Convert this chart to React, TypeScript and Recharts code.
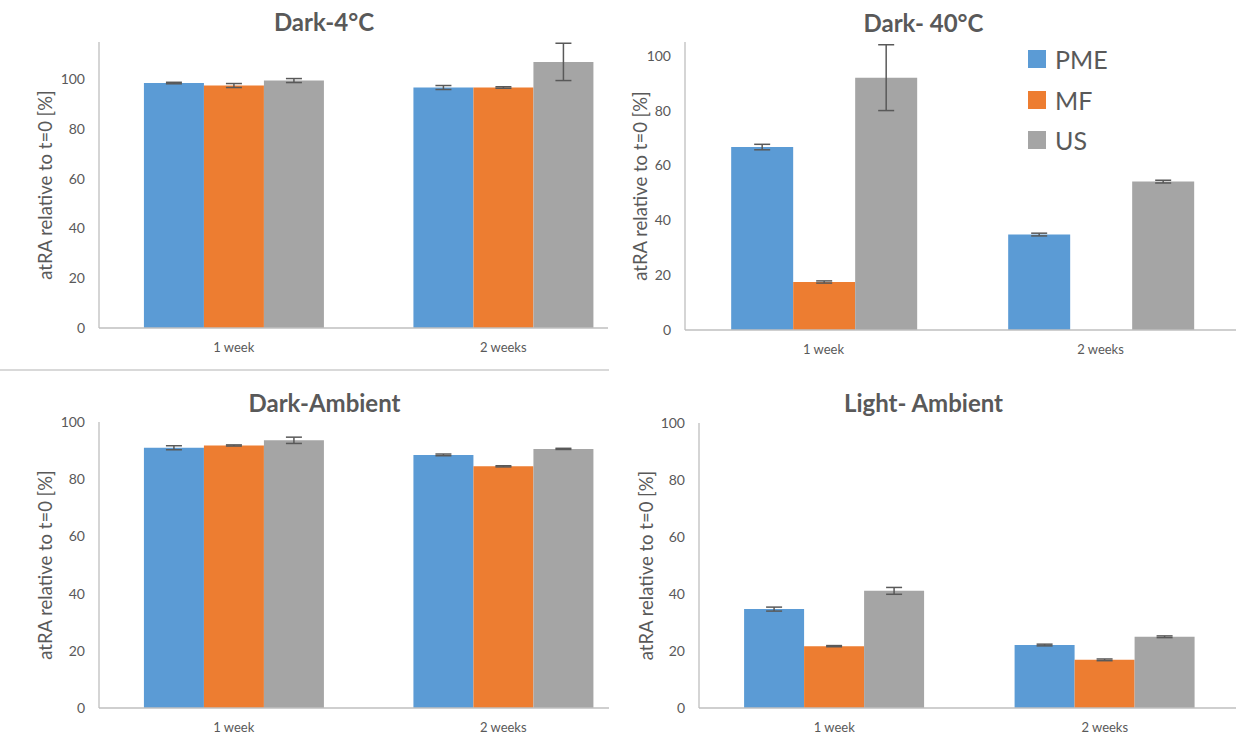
import React from 'react';
import { BarChart, Bar, XAxis, YAxis, ErrorBar, Legend } from 'recharts';

const categories = ['1 week', '2 weeks'];
const seriesNames = ['PME', 'MF', 'US'];
const seriesColors = ['#5B9BD5', '#ED7D31', '#A5A5A5'];
const yTicks = [0, 20, 40, 60, 80, 100];
const yAxisTitle = 'atRA relative to t=0 [%]';

// Dark-4°C
const dark4PME = [98.5, 96.7];
const dark4PMEErr = [0.3, 0.8];
const dark4MF = [97.5, 96.7];
const dark4MFErr = [0.8, 0.3];
const dark4US = [99.5, 107.0];
const dark4USErr = [0.8, 7.5];

// Dark- 40°C
const dark40PME = [66.7, 34.8];
const dark40PMEErr = [1.0, 0.5];
const dark40MF: (number | null)[] = [17.5, null];
const dark40MFErr: (number | null)[] = [0.4, null];
const dark40US = [92.0, 54.1];
const dark40USErr = [12.0, 0.5];

// Dark-Ambient
const darkAmbPME = [91.0, 88.5];
const darkAmbPMEErr = [0.7, 0.3];
const darkAmbMF = [91.8, 84.5];
const darkAmbMFErr = [0.2, 0.2];
const darkAmbUS = [93.6, 90.6];
const darkAmbUSErr = [1.1, 0.2];

// Light- Ambient
const lightAmbPME = [34.7, 22.1];
const lightAmbPMEErr = [0.7, 0.3];
const lightAmbMF = [21.7, 16.9];
const lightAmbMFErr = [0.2, 0.3];
const lightAmbUS = [41.1, 25.0];
const lightAmbUSErr = [1.2, 0.3];

const buildRows = (pme: any[], pmeE: any[], mf: any[], mfE: any[], us: any[], usE: any[]) =>
  categories.map((c, i) => ({
    cat: c,
    PME: pme[i], PMEErr: pmeE[i],
    MF: mf[i], MFErr: mfE[i],
    US: us[i], USErr: usE[i],
  }));

const FONT = 'Lato, "Noto Sans", sans-serif';
const TEXT = '#595959';
const AXIS = '#BFBFBF';

const renderLegend = (props: any) => {
  const items = [...(props.payload || [])].sort(
    (a: any, b: any) => seriesNames.indexOf(a.value) - seriesNames.indexOf(b.value)
  );
  return (
    <div style={{ fontFamily: FONT }}>
      {items.map((p: any) => (
        <div key={p.value} style={{ display: 'flex', alignItems: 'center', height: 40.5 }}>
          <span style={{ display: 'inline-block', width: 18, height: 18, background: p.color, marginRight: 9 }} />
          <span style={{ fontSize: 25, color: TEXT, lineHeight: '40px' }}>{p.value}</span>
        </div>
      ))}
    </div>
  );
};

type PanelProps = {
  title: string;
  data: any[];
  domainMax: number;
  left: number; top: number; wrapW: number; wrapH: number;
  chartW: number; yAxisW: number;
  plotTop: number; plotBottom: number;
  titleX: number; titleY: number;
  labelDx: number;
  legend?: boolean;
};

const Panel = (p: PanelProps) => {
  const xAxisH = 20;
  return (
    <div style={{ position: 'absolute', left: p.left, top: p.top, width: p.wrapW, height: p.wrapH, overflow: 'hidden' }}>
      <div style={{
        position: 'absolute', left: p.titleX, top: p.titleY, transform: 'translate(-50%, -50%)',
        fontFamily: FONT, fontWeight: 700, fontSize: 24, color: TEXT, whiteSpace: 'nowrap', lineHeight: 1,
      }}>{p.title}</div>
      <div style={{ position: 'absolute', left: 0, top: 0 }}>
        <BarChart
          width={p.chartW}
          height={p.wrapH}
          data={p.data}
          margin={{ top: p.plotTop, left: 0, right: 2, bottom: p.wrapH - p.plotBottom - xAxisH }}
          barCategoryGap="16.67%"
          barGap={0}
        >
          <XAxis
            dataKey="cat"
            height={xAxisH}
            tickLine={false}
            tickSize={0}
            tickMargin={15}
            axisLine={{ stroke: AXIS, strokeWidth: 1.3 }}
            tick={{ fill: TEXT, fontSize: 13, fontFamily: FONT }}
          />
          <YAxis
            width={p.yAxisW}
            domain={[0, p.domainMax]}
            ticks={yTicks}
            allowDataOverflow
            tickLine={false}
            tickSize={0}
            tickMargin={14}
            axisLine={{ stroke: AXIS, strokeWidth: 1.3 }}
            tick={{ fill: TEXT, fontSize: 14, fontFamily: FONT }}
            label={{ value: yAxisTitle, angle: -90, position: 'center', dx: p.labelDx, fill: TEXT, fontSize: 18.5, fontFamily: FONT }}
          />
          {p.legend && (
            <Legend
              layout="vertical"
              align="center"
              verticalAlign="middle"
              content={renderLegend}
              wrapperStyle={{ left: 412, top: 39, width: 'auto', height: 'auto' }}
            />
          )}
          {seriesNames.map((s, i) => (
            <Bar key={s} dataKey={s} name={s} fill={seriesColors[i]} isAnimationActive={false}>
              <ErrorBar dataKey={s + 'Err'} width={8} stroke="#595959" strokeWidth={1.5} direction="y" />
            </Bar>
          ))}
        </BarChart>
      </div>
    </div>
  );
};

export default function App() {
  const dark4 = buildRows(dark4PME, dark4PMEErr, dark4MF, dark4MFErr, dark4US, dark4USErr);
  const dark40 = buildRows(dark40PME, dark40PMEErr, dark40MF, dark40MFErr, dark40US, dark40USErr);
  const darkAmb = buildRows(darkAmbPME, darkAmbPMEErr, darkAmbMF, darkAmbMFErr, darkAmbUS, darkAmbUSErr);
  const lightAmb = buildRows(lightAmbPME, lightAmbPMEErr, lightAmbMF, lightAmbMFErr, lightAmbUS, lightAmbUSErr);
  return (
    <div style={{ position: 'absolute', left: 0, top: 0, width: 1236, height: 736, background: '#fff', overflow: 'hidden' }}>
      <Panel title="Dark-4°C" data={dark4} domainMax={115}
        left={0} top={0} wrapW={608} wrapH={370} chartW={640} yAxisW={99}
        plotTop={42} plotBottom={328} titleX={324} titleY={22} labelDx={-4} />
      <Panel title="Dark- 40°C" data={dark40} domainMax={105}
        left={616} top={0} wrapW={620} wrapH={370} chartW={625} yAxisW={69}
        plotTop={42} plotBottom={330} titleX={307.5} titleY={23} labelDx={-10} legend />
      <div style={{ position: 'absolute', left: 0, top: 369, width: 609, height: 1.5, background: '#D9D9D9' }} />
      <Panel title="Dark-Ambient" data={darkAmb} domainMax={100}
        left={0} top={370} wrapW={609} wrapH={366} chartW={640} yAxisW={99}
        plotTop={52} plotBottom={338} titleX={324.5} titleY={33} labelDx={-4} />
      <Panel title="Light- Ambient" data={lightAmb} domainMax={100}
        left={616} top={370} wrapW={620} wrapH={366} chartW={626} yAxisW={83}
        plotTop={53} plotBottom={338} titleX={307.5} titleY={33} labelDx={-11} />
    </div>
  );
}
